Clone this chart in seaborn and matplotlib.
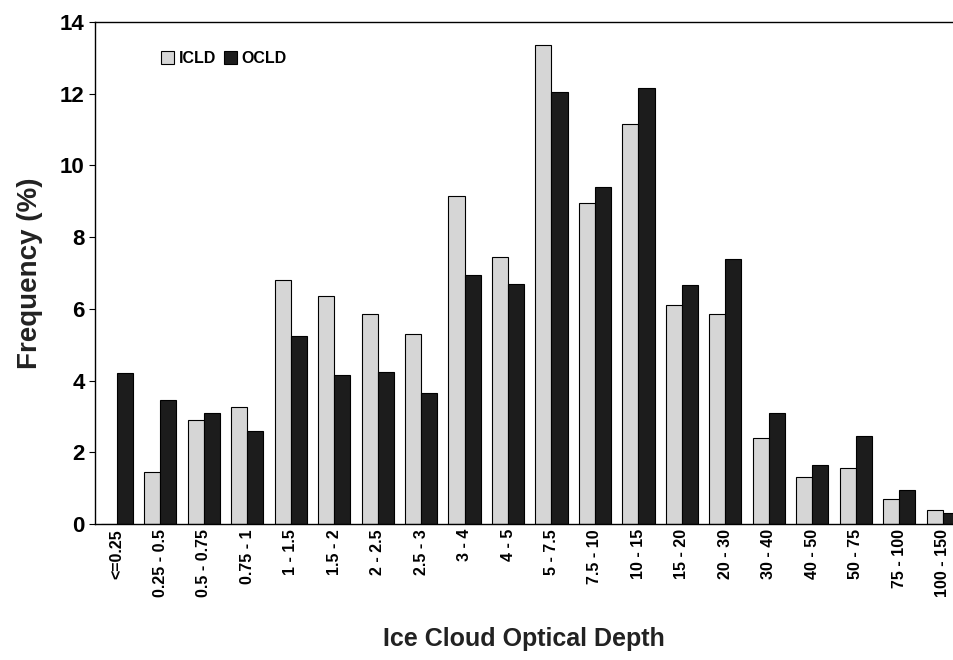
import pandas as pd
import seaborn as sns
import matplotlib.pyplot as plt

categories = ['<=0.25', '0.25 - 0.5', '0.5 - 0.75', '0.75 - 1', '1 - 1.5', '1.5 - 2',
              '2 - 2.5', '2.5 - 3', '3 - 4', '4 - 5', '5 - 7.5', '7.5 - 10', '10 - 15',
              '15 - 20', '20 - 30', '30 - 40', '40 - 50', '50 - 75', '75 - 100', '100 - 150']
icld = [0, 1.45, 2.9, 3.25, 6.8, 6.35, 5.85, 5.3, 9.15, 7.45, 13.35, 8.95, 11.15,
        6.1, 5.85, 2.4, 1.3, 1.55, 0.7, 0.4]
ocld = [4.2, 3.45, 3.1, 2.6, 5.25, 4.15, 4.25, 3.65, 6.95, 6.7, 12.05, 9.4, 12.15,
        6.65, 7.4, 3.1, 1.65, 2.45, 0.95, 0.3]

df = pd.DataFrame({'bin': categories * 2,
                   'freq': icld + ocld,
                   'type': ['ICLD'] * len(icld) + ['OCLD'] * len(ocld)})

sns.set_style('white')
plt.rcParams['font.family'] = ['Liberation Sans', 'DejaVu Sans']
plt.rcParams['font.weight'] = 'bold'
plt.rcParams['text.color'] = 'black'
plt.rcParams['xtick.color'] = 'black'
plt.rcParams['ytick.color'] = 'black'

fig = plt.figure(figsize=(9.54, 6.6), dpi=100)
ax = fig.add_axes([0.0996, 0.206, 0.9, 0.761])
sns.barplot(data=df, x='bin', y='freq', hue='type', order=categories,
            palette={'ICLD': '#d6d6d6', 'OCLD': '#1c1c1c'},
            edgecolor='black', linewidth=0.8, width=0.74, ax=ax)

ax.set_xlim(-0.5, 19.25)
ax.set_ylim(0, 14)
ax.set_yticks(range(0, 15, 2))
ax.tick_params(axis='y', labelsize=16, length=4, direction='out', left=True)
ax.tick_params(axis='x', labelsize=11.5, rotation=90, length=0)
for lab in ax.get_xticklabels() + ax.get_yticklabels():
    lab.set_fontweight('bold')
ax.set_xlabel('Ice Cloud Optical Depth', fontsize=18, fontweight='bold', labelpad=22, color='#222222')
ax.set_ylabel('Frequency (%)', fontsize=20, fontweight='bold', labelpad=12, color='#222222')
ax.spines['right'].set_visible(False)
for s in ['left', 'bottom', 'top']:
    ax.spines[s].set_color('black')
    ax.spines[s].set_linewidth(1)

leg = ax.legend(loc='upper left', bbox_to_anchor=(0.06, 0.97), frameon=False,
                ncol=2, fontsize=11.5, handlelength=0.8, handleheight=0.9,
                handletextpad=0.3, columnspacing=0.5, title=None)
for t in leg.get_texts():
    t.set_fontweight('bold')

fig.savefig('out.png', dpi=100)
